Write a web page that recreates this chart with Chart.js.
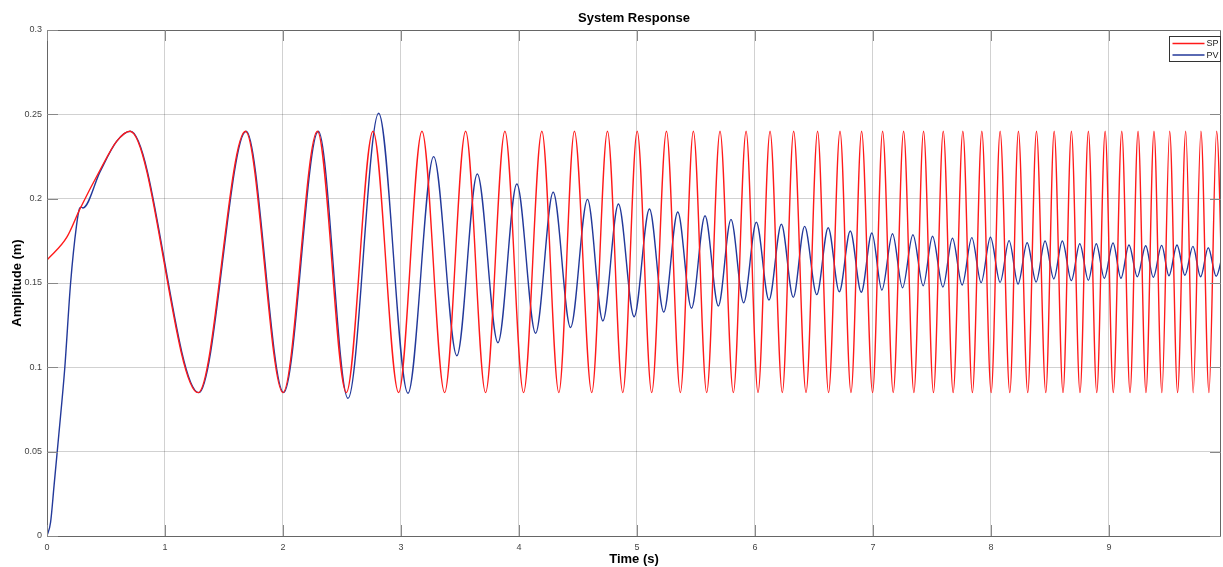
<!DOCTYPE html>
<html><head><meta charset="utf-8">
<script src="https://cdn.jsdelivr.net/npm/chart.js@4/dist/chart.umd.min.js"></script>
<style>html,body{margin:0;padding:0;background:#fff;}#wrap{width:1223px;height:567px;position:relative;}</style>
</head><body><div id="wrap"><canvas id="c" width="1223" height="567"></canvas></div>
<script>
// ---- data (extrema + a few shape points) ----
const chartTitle = "System Response";
const xTitle = "Time (s)";
const yTitle = "Amplitude (m)";
const seriesNames = ["SP", "PV"];
const xTicks = [0,1,2,3,4,5,6,7,8,9];
const yTicks = [0,0.05,0.1,0.15,0.2,0.25,0.3];

const spTime = [0,0.167,0.28,0.45,0.59,0.703,1.281,1.682,2.00,2.292,2.537,2.763,2.98,3.178,3.370,3.548,3.717,3.881,4.039,4.194,4.338,4.470,4.617,4.750,4.880,5.002,5.125,5.250,5.368,5.478,5.591,5.704,5.817,5.925,6.026,6.128,6.232,6.328,6.433,6.531,6.624,6.721,6.814,6.904,6.997,7.082,7.172,7.260,7.347,7.429,7.513,7.596,7.680,7.762,7.843,7.923,8.002,8.078,8.160,8.233,8.312,8.386,8.465,8.536,8.611,8.682,8.755,8.826,8.897,8.968,9.037,9.109,9.179,9.247,9.314,9.382,9.449,9.515,9.582,9.651,9.714,9.780,9.848,9.913,9.978];
const spAmp = [0.1636,0.177,0.194,0.217,0.234,0.24,0.085,0.24,0.085,0.24,0.085,0.24,0.085,0.24,0.085,0.24,0.085,0.24,0.085,0.24,0.085,0.24,0.085,0.24,0.085,0.24,0.085,0.24,0.085,0.24,0.085,0.24,0.085,0.24,0.085,0.24,0.085,0.24,0.085,0.24,0.085,0.24,0.085,0.24,0.085,0.24,0.085,0.24,0.085,0.24,0.085,0.24,0.085,0.24,0.085,0.24,0.085,0.24,0.085,0.24,0.085,0.24,0.085,0.24,0.085,0.24,0.085,0.24,0.085,0.24,0.085,0.24,0.085,0.24,0.085,0.24,0.085,0.24,0.085,0.24,0.085,0.24,0.085,0.24,0.085];

const pvTime = [0,0.03,0.06,0.10,0.15,0.20,0.25,0.275,0.29,0.305,0.45,0.59,0.707,1.287,1.688,2.006,2.30,2.551,2.811,3.059,3.277,3.474,3.647,3.822,3.982,4.141,4.290,4.437,4.581,4.711,4.843,4.976,5.106,5.227,5.346,5.462,5.577,5.690,5.797,5.904,6.012,6.119,6.224,6.325,6.421,6.524,6.621,6.715,6.808,6.901,6.991,7.076,7.166,7.251,7.339,7.426,7.505,7.593,7.674,7.756,7.838,7.917,7.996,8.078,8.154,8.230,8.307,8.383,8.459,8.533,8.605,8.682,8.753,8.826,8.893,8.961,9.035,9.102,9.170,9.241,9.312,9.376,9.447,9.509,9.577,9.644,9.712,9.777,9.842,9.909,9.975];
const pvAmp = [0,0.008,0.03,0.06,0.099,0.15,0.184,0.194,0.195,0.1945,0.216,0.234,0.24,0.085,0.24,0.085,0.24,0.0816,0.2506,0.0846,0.2249,0.1069,0.2146,0.1146,0.2087,0.1202,0.2038,0.1236,0.1996,0.1275,0.1968,0.1300,0.1939,0.1328,0.1921,0.1350,0.1899,0.1364,0.1877,0.1383,0.1860,0.1399,0.1848,0.1415,0.1836,0.1431,0.1828,0.1448,0.1808,0.1445,0.1796,0.1458,0.1792,0.1472,0.1786,0.1484,0.1777,0.1476,0.1765,0.1488,0.1769,0.1502,0.1771,0.1504,0.1751,0.1494,0.1739,0.1506,0.1749,0.1524,0.1749,0.1514,0.1733,0.1516,0.1733,0.1528,0.1737,0.1528,0.1725,0.1537,0.1721,0.1534,0.1723,0.1543,0.1725,0.1546,0.1717,0.1537,0.1709,0.154,0.171];

const xMin = 0, xMax = 9.95, yMin = 0, yMax = 0.3;
const spColor = "#ff1a1a", pvColor = "#23399a";

const zip = (xs, ys) => xs.map((x, i) => ({x: x, y: ys[i]}));

const FONT = "'Liberation Sans', Arial, Helvetica, sans-serif";

const decor = {
  id: 'decor',
  afterDraw(chart) {
    const ctx = chart.ctx, a = chart.chartArea;
    ctx.save();
    ctx.strokeStyle = '#666';
    ctx.lineWidth = 1;
    ctx.strokeRect(Math.round(a.left)+0.5, Math.round(a.top)+0.5, Math.round(a.right-a.left)-1, Math.round(a.bottom-a.top));
    const xs = chart.scales.x, ys = chart.scales.y;
    ctx.strokeStyle = '#888';
    ctx.beginPath();
    xTicks.forEach(v => { const p = Math.round(xs.getPixelForValue(v))+0.5; ctx.moveTo(p, a.bottom); ctx.lineTo(p, a.bottom-11); ctx.moveTo(p, a.top); ctx.lineTo(p, a.top+11); });
    yTicks.forEach(v => { const p = Math.round(ys.getPixelForValue(v))+0.5; ctx.moveTo(a.left, p); ctx.lineTo(a.left+11, p); ctx.moveTo(a.right, p); ctx.lineTo(a.right-11, p); });
    ctx.stroke();
    ctx.fillStyle = '#000';
    ctx.font = 'bold 13px ' + FONT;
    ctx.textAlign = 'center'; ctx.textBaseline = 'middle';
    ctx.fillText(chartTitle, (a.left + a.right)/2, 18);
    ctx.fillText(xTitle, (a.left + a.right)/2, 559);
    ctx.save();
    ctx.translate(17, (a.top + a.bottom)/2);
    ctx.rotate(-Math.PI/2);
    ctx.fillText(yTitle, 0, 0);
    ctx.restore();
    const lx = 1169.5, ly = 36.5, lw = 51, lh = 25;
    ctx.fillStyle = '#fff';
    ctx.fillRect(lx, ly, lw, lh);
    ctx.strokeStyle = '#333';
    ctx.strokeRect(lx, ly, lw, lh);
    ctx.font = '9px ' + FONT;
    ctx.textAlign = 'left';
    const cols = [spColor, pvColor];
    seriesNames.forEach((n, i) => {
      const yy = ly + 7 + i*11.5;
      ctx.strokeStyle = cols[i]; ctx.lineWidth = 1.3;
      ctx.beginPath(); ctx.moveTo(lx+3, yy); ctx.lineTo(lx+35, yy); ctx.stroke();
      ctx.fillStyle = '#222';
      ctx.fillText(n, lx+37, yy+0.5);
    });
    ctx.restore();
  }
};

new Chart(document.getElementById('c'), {
  type: 'line',
  data: {
    datasets: [
      {label: seriesNames[0], data: zip(spTime, spAmp), borderColor: spColor, borderWidth: 1.4, pointRadius: 0, cubicInterpolationMode: 'monotone', fill: false},
      {label: seriesNames[1], data: zip(pvTime, pvAmp), borderColor: pvColor, borderWidth: 1.4, pointRadius: 0, cubicInterpolationMode: 'monotone', fill: false}
    ]
  },
  options: {
    responsive: false,
    animation: false,
    layout: {padding: {top: 30, right: 2, left: 0, bottom: 0}},
    plugins: {legend: {display: false}, title: {display: false}, tooltip: {enabled: false}},
    scales: {
      x: {
        type: 'linear', min: xMin, max: xMax,
        afterBuildTicks: s => { s.ticks = xTicks.map(v => ({value: v})); },
        afterFit: s => { s.height = 31; },
        grid: {color: 'rgba(0,0,0,0.18)', drawTicks: false},
        border: {display: false},
        ticks: {padding: 6, color: '#444', font: {size: 9, family: FONT}, callback: v => String(v), maxRotation: 0, autoSkip: false}
      },
      y: {
        type: 'linear', min: yMin, max: yMax,
        afterBuildTicks: s => { s.ticks = yTicks.map(v => ({value: v})); },
        afterFit: s => { s.width = 47; },
        grid: {color: 'rgba(0,0,0,0.18)', drawTicks: false},
        border: {display: false},
        ticks: {padding: 5, color: '#444', font: {size: 9, family: FONT}, callback: v => String(+v.toFixed(2)), autoSkip: false}
      }
    }
  },
  plugins: [decor]
});
</script>
</body></html>
